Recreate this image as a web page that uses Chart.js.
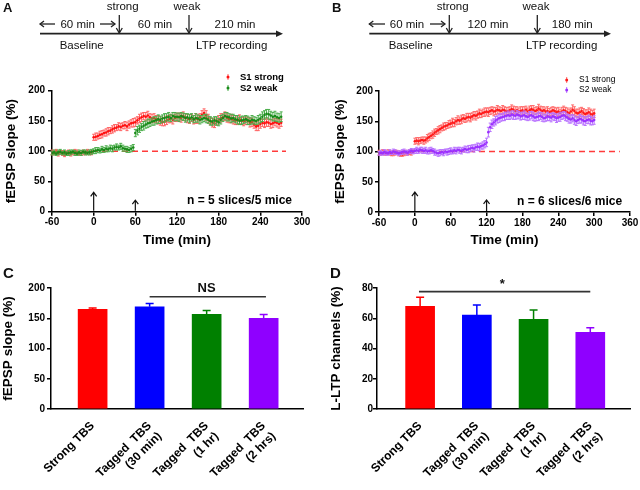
<!DOCTYPE html>
<html><head><meta charset="utf-8">
<script src="https://cdn.jsdelivr.net/npm/chart.js@4.4.1/dist/chart.umd.min.js"></script>
<style>
html,body{margin:0;padding:0;background:#fff;}
#wrap{position:relative;width:640px;height:490px;overflow:hidden;background:#fff;}
canvas{position:absolute;}
svg{position:absolute;left:0;top:0;}
</style></head><body>
<div id="wrap">
<canvas id="cA" width="320" height="180" style="left:0;top:70px"></canvas>
<canvas id="cB" width="320" height="180" style="left:320px;top:70px"></canvas>
<canvas id="cC" width="320" height="240" style="left:0;top:250px"></canvas>
<canvas id="cD" width="320" height="240" style="left:320px;top:250px"></canvas>
<svg width="640" height="490" font-family="Liberation Sans, Arial, sans-serif" fill="#111">
  <g font-weight="bold">
    <text x="3" y="12" font-size="13">A</text>
    <text x="332" y="12" font-size="13">B</text>
    <text x="3" y="277.5" font-size="15">C</text>
    <text x="330" y="277.5" font-size="15">D</text>
  </g>
  <g stroke="#222" fill="none" stroke-width="1.3">
    <line x1="40" y1="33.7" x2="279" y2="33.7" stroke-width="1.7"/>
    <line x1="119.3" y1="15" x2="119.3" y2="33"/><polyline points="116.3,28 119.3,33 122.3,28"/>
    <line x1="189" y1="15" x2="189" y2="33"/><polyline points="186,28 189,33 192,28"/>
    <line x1="40" y1="24" x2="55" y2="24"/><polyline points="44,21 40,24 44,27"/>
    <line x1="100" y1="24" x2="115" y2="24"/><polyline points="111,21 115,24 111,27"/>
    <line x1="369.3" y1="33.7" x2="607" y2="33.7" stroke-width="1.7"/>
    <line x1="449.3" y1="15" x2="449.3" y2="33"/><polyline points="446.3,28 449.3,33 452.3,28"/>
    <line x1="537.3" y1="15" x2="537.3" y2="33"/><polyline points="534.3,28 537.3,33 540.3,28"/>
    <line x1="369.3" y1="24" x2="385" y2="24"/><polyline points="373.3,21 369.3,24 373.3,27"/>
    <line x1="430" y1="24" x2="445" y2="24"/><polyline points="441,21 445,24 441,27"/>
  </g>
  <polygon points="276,30.5 283,33.7 276,36.9" fill="#222"/>
  <polygon points="604,30.5 611,33.7 604,36.9" fill="#222"/>
  <g font-size="11.5" text-anchor="middle">
    <text x="122.7" y="10">strong</text>
    <text x="187" y="10">weak</text>
    <text x="77.7" y="28">60 min</text>
    <text x="155" y="28">60 min</text>
    <text x="235" y="28">210 min</text>
    <text x="81.7" y="48.5">Baseline</text>
    <text x="231.7" y="48.5">LTP recording</text>
    <text x="452.7" y="10">strong</text>
    <text x="536" y="10">weak</text>
    <text x="407" y="28">60 min</text>
    <text x="488" y="28">120 min</text>
    <text x="572.3" y="28">180 min</text>
    <text x="410.7" y="48.5">Baseline</text>
    <text x="561.7" y="48.5">LTP recording</text>
  </g>
</svg>
</div>
<script>
// ---------- DATA ----------
const timeA = [-60,-57,-54,-51,-48,-45,-42,-39,-36,-33,-30,-27,-24,-21,-18,-15,-12,-9,-6,-3,
0,3,6,9,12,15,18,21,24,27,30,33,36,39,42,45,48,51,54,57,
60,63,66,69,72,75,78,81,84,87,90,93,96,99,102,105,108,111,114,117,
120,123,126,129,132,135,138,141,144,147,150,153,156,159,162,165,168,171,174,177,
180,183,186,189,192,195,198,201,204,207,210,213,216,219,222,225,228,231,234,237,
240,243,246,249,252,255,258,261,264,267,270];
const s1StrongA = [98,97,99,96,98,97,95,97,98,96,97,99,98,96,97,98,97,99,98,97,
123,124,125,127,128,130,131,133,134,136,138,139,141,140,142,143,141,144,146,147,
148,151,154,156,158,157,159,156,154,155,153,152,150,148,149,151,153,154,152,155,
156,157,155,158,156,154,153,155,152,154,153,156,160,163,159,154,150,147,146,149,
152,155,156,158,155,153,154,152,150,151,153,150,149,151,150,147,148,144,141,142,
145,147,146,148,147,145,146,148,147,145,147];
const s2WeakA = [97,98,96,98,99,97,98,96,97,98,99,97,96,98,97,99,98,97,98,99,
100,101,102,101,103,102,104,103,105,104,106,107,106,108,105,104,103,102,104,106,
130,134,137,140,142,144,146,147,149,150,151,153,152,154,155,156,157,155,158,157,
157,156,158,157,155,156,154,156,153,155,154,152,153,155,154,152,150,149,151,150,
148,152,155,158,157,156,154,155,153,152,150,151,152,153,151,150,152,151,150,152,
154,157,160,162,161,159,157,158,156,155,157];
const semS1A = [4,3,4,4,3,4,4,3,4,4,3,4,4,3,4,4,3,4,4,3,
5,6,5,6,6,5,6,6,5,6,6,5,6,6,5,6,7,6,6,7,
7,6,7,7,6,7,7,6,7,7,6,7,7,6,7,7,6,7,7,6,
7,6,7,7,6,7,7,6,7,8,7,6,7,7,8,7,6,7,7,6,
7,7,6,7,7,6,7,7,6,7,7,6,7,7,6,7,7,6,7,8,
7,6,7,7,6,7,7,6,7,7,6];
const semS2A = [3,4,3,4,4,3,4,3,4,4,3,4,3,4,4,3,4,3,4,4,
4,5,4,4,5,4,5,4,5,5,4,5,4,5,5,4,5,4,5,5,
6,7,6,6,7,6,7,6,6,7,6,7,6,6,7,6,7,6,6,7,
6,7,6,6,7,6,7,6,6,7,6,7,6,6,7,6,7,6,6,7,
6,7,6,6,7,6,7,6,6,7,6,7,6,6,7,6,7,6,6,7,
7,8,7,7,8,7,7,8,7,7,8];

const timeB = [-60,-57,-54,-51,-48,-45,-42,-39,-36,-33,-30,-27,-24,-21,-18,-15,-12,-9,-6,-3,
0,3,6,9,12,15,18,21,24,27,30,33,36,39,42,45,48,51,54,57,
60,63,66,69,72,75,78,81,84,87,90,93,96,99,102,105,108,111,114,117,
120,123,126,129,132,135,138,141,144,147,150,153,156,159,162,165,168,171,174,177,
180,183,186,189,192,195,198,201,204,207,210,213,216,219,222,225,228,231,234,237,
240,243,246,249,252,255,258,261,264,267,270,273,276,279,282,285,288,291,294,297,
300];
const s1StrongB = [98,97,99,98,97,99,98,96,97,98,99,97,96,95,97,98,97,99,98,100,
117,118,117,118,119,118,119,122,124,126,128,131,133,135,137,139,141,142,143,145,
146,148,147,150,152,151,153,155,154,156,157,156,158,160,159,161,163,162,164,165,
166,165,167,168,166,167,169,168,167,169,168,166,167,168,170,169,167,168,166,167,
168,167,169,166,168,170,169,167,168,171,169,167,168,166,167,165,166,168,167,165,
166,164,166,168,167,165,163,166,169,167,164,163,165,167,164,162,163,165,162,161,
163];
const s2WeakB = [97,98,97,99,98,97,99,98,100,99,98,97,98,99,100,99,98,100,101,100,
101,102,101,103,102,101,102,100,101,102,101,99,98,97,98,99,98,100,99,100,
101,100,102,101,103,102,101,103,104,103,104,105,106,105,107,108,107,109,110,112,
115,132,140,145,148,151,153,155,156,157,158,159,160,159,161,160,159,161,160,158,
159,160,158,157,159,160,158,156,157,158,159,157,155,156,158,157,156,158,157,155,
156,157,159,160,158,156,154,153,155,152,150,152,154,153,151,150,152,153,151,150,
152];
const semS1B = [4,3,4,4,3,4,4,3,4,4,3,4,4,3,4,4,3,4,4,3,
5,5,6,5,5,6,5,6,6,5,6,6,5,6,6,5,6,6,5,6,
6,7,6,6,7,6,7,6,6,7,6,7,6,6,7,6,7,6,6,7,
6,7,6,6,7,6,7,6,6,7,6,7,6,6,7,6,7,6,6,7,
6,7,6,6,7,6,7,6,6,7,6,7,6,6,7,6,7,6,6,7,
7,6,7,7,6,7,7,6,8,7,6,7,7,6,7,7,6,7,8,7,
7];
const semS2B = [3,4,3,4,4,3,4,3,4,4,3,4,3,4,4,3,4,3,4,4,
4,5,4,4,5,4,5,4,5,5,4,5,4,5,5,4,5,4,5,5,
5,4,5,5,4,5,5,4,5,5,6,5,5,6,5,6,6,5,6,6,
7,8,7,7,6,7,6,7,6,6,7,6,7,6,6,7,6,7,6,6,
6,7,6,6,7,6,7,6,6,7,6,7,6,6,7,6,7,6,6,7,
6,7,6,6,7,6,7,6,6,7,7,6,7,6,7,7,6,7,7,6,
7];

const xTicksA = [-60,0,60,120,180,240,300];
const xTicksB = [-60,0,60,120,180,240,300,360];
const yTicksSlope = [0,50,100,150,200];
const yTicksLtp = [0,20,40,60,80];
const baselineLevel = 100;
const baselineEndA = 277;
const baselineEndB = 343;
const inductionArrowsA = [[0,32],[60,19]];
const inductionArrowsB = [[0,33],[120,20]];

const barCategories = [['Strong TBS'],['Tagged  TBS','(30 min)'],['Tagged  TBS','(1 hr)'],['Tagged  TBS','(2 hrs)']];
const slopeMeans = [164.8,169,156.5,150];
const slopeSem = [2,5.5,6.5,6];
const ltpMeans = [67.9,62.1,59.3,50.7];
const ltpSem = [6,6.7,6.2,3.1];

// ---------- STYLE ----------
const FONT = "'Liberation Sans', Arial, Helvetica, sans-serif";
Chart.defaults.font.family = FONT;
Chart.defaults.color = '#000';
const barColors = ['#ff0000','#0000ff','#008000','#8f00ff'];

const semBars = {
  id:'semBars',
  beforeDatasetDraw(chart, args) {
    const ds = chart.data.datasets[args.index];
    if (!ds.sem) return;
    const y = chart.scales.y, ctx = chart.ctx;
    ctx.save();
    ctx.strokeStyle = ds.semColor; ctx.lineWidth = 1;
    ctx.beginPath();
    args.meta.data.forEach((el,i) => {
      const e = ds.sem[i]; if (e == null) return;
      const v = ds.data[i].y;
      const yt = y.getPixelForValue(v+e), yb = y.getPixelForValue(v-e);
      ctx.moveTo(el.x, yt); ctx.lineTo(el.x, yb);
      ctx.moveTo(el.x-1.5, yt); ctx.lineTo(el.x+1.5, yt);
      ctx.moveTo(el.x-1.5, yb); ctx.lineTo(el.x+1.5, yb);
    });
    ctx.stroke(); ctx.restore();
  }
};

const barErr = {
  id:'barErr',
  afterDatasetsDraw(chart) {
    const ctx = chart.ctx, y = chart.scales.y;
    chart.data.datasets.forEach((ds, di) => {
      if (!ds.semUp) return;
      const meta = chart.getDatasetMeta(di);
      meta.data.forEach((el,i) => {
        const top = y.getPixelForValue(ds.data[i].y);
        const yt = y.getPixelForValue(ds.data[i].y + ds.semUp[i]);
        ctx.save();
        ctx.strokeStyle = ds.backgroundColor[i]; ctx.lineWidth = 1.5;
        ctx.beginPath();
        ctx.moveTo(el.x, top); ctx.lineTo(el.x, yt);
        ctx.moveTo(el.x-4, yt); ctx.lineTo(el.x+4, yt);
        ctx.stroke(); ctx.restore();
      });
    });
  }
};

const extras = {
  id:'extras',
  afterDraw(chart, args, o) {
    const ctx = chart.ctx, xs = chart.scales.x, ys = chart.scales.y;
    ctx.save();
    if (o.arrows) {
      ctx.strokeStyle = '#111'; ctx.lineWidth = 1.2;
      o.arrows.forEach(([t,h]) => {
        const px = xs.getPixelForValue(t), y0 = ys.getPixelForValue(0) - 1, y1 = ys.getPixelForValue(h);
        ctx.beginPath();
        ctx.moveTo(px, y0); ctx.lineTo(px, y1);
        ctx.moveTo(px-3, y1+4); ctx.lineTo(px, y1); ctx.lineTo(px+3, y1+4);
        ctx.stroke();
      });
    }
    if (o.note) {
      ctx.font = o.note.font; ctx.fillStyle = '#000'; ctx.textAlign = 'center'; ctx.textBaseline = 'middle';
      ctx.fillText(o.note.text, xs.getPixelForValue(o.note.x), ys.getPixelForValue(o.note.y));
    }
    if (o.legend) {
      const items = chart.data.datasets.filter(d => d.label);
      ctx.font = o.legend.font; ctx.textAlign = 'left'; ctx.textBaseline = 'middle';
      items.forEach((d,i) => {
        const yy = o.legend.ys[i], xx = o.legend.x;
        ctx.strokeStyle = d.semColor; ctx.lineWidth = 1;
        ctx.beginPath(); ctx.moveTo(xx, yy-3); ctx.lineTo(xx, yy+3); ctx.stroke();
        ctx.fillStyle = d.pointBackgroundColor;
        ctx.beginPath(); ctx.arc(xx, yy, 1.5, 0, Math.PI*2); ctx.fill();
        ctx.fillStyle = '#000';
        ctx.fillText(d.label, o.legend.textX, yy);
      });
    }
    if (o.sig) {
      const s = o.sig;
      ctx.strokeStyle = '#333'; ctx.lineWidth = 1.6;
      const yy = ys.getPixelForValue(s.y);
      ctx.beginPath(); ctx.moveTo(xs.getPixelForValue(s.from), yy); ctx.lineTo(xs.getPixelForValue(s.to), yy); ctx.stroke();
      ctx.font = s.font; ctx.fillStyle = '#111'; ctx.textAlign = 'center'; ctx.textBaseline = 'middle';
      ctx.fillText(s.text, xs.getPixelForValue(s.tx), ys.getPixelForValue(s.ty));
    }
    ctx.restore();
  }
};

function axisCommon() {
  return {
    grid:{drawOnChartArea:false, drawTicks:true, tickLength:4, color:'#000', lineWidth:1.5},
    border:{display:true, color:'#000', width:1.5}
  };
}

function tsChart(id, times, s1, s2, sem1, sem2, cols, xTicks, xmax, baseEnd, arrows, note, legend, dims) {
  const datasets = [
    {label:'S1 strong', data: times.map((t,i)=>({x:t, y:s1[i]})), sem: sem1, semColor: cols.s1e,
     pointRadius:1.3, pointBorderWidth:0, pointBackgroundColor: cols.s1, backgroundColor: cols.s1, order:2},
    {label: cols.s2label, data: times.map((t,i)=>({x:t, y:s2[i]})), sem: sem2, semColor: cols.s2e,
     pointRadius:1.3, pointBorderWidth:0, pointBackgroundColor: cols.s2, backgroundColor: cols.s2, order:1},
    {type:'line', data:[{x:-60, y:baselineLevel},{x:baseEnd, y:baselineLevel}], borderColor:'#ff3b3b',
     borderWidth:1.5, borderDash:[6,4], pointRadius:0, order:3}
  ];
  return new Chart(document.getElementById(id), {
    type:'scatter',
    data:{datasets},
    options:{
      responsive:false, animation:false, devicePixelRatio:1,
      layout:{padding:{left:0, right:dims.right, top:dims.top, bottom:0}},
      plugins:{legend:{display:false}, tooltip:{enabled:false},
        extras:{arrows, note, legend}},
      scales:{
        x:Object.assign(axisCommon(), {type:'linear', min:-60, max:xmax,
          afterBuildTicks: s => { s.ticks = xTicks.map(v => ({value:v})); },
          afterFit: s => { s.height = dims.xh; },
          ticks:{font:{size:10, weight:'bold'}, color:'#000', padding:1, maxRotation:0, autoSkip:false},
          title:{display:true, text:'Time (min)', color:'#000', font:{size:13.5, weight:'bold'}, padding:{top:0, bottom:1.2}}}),
        y:Object.assign(axisCommon(), {min:0, max:200,
          afterBuildTicks: s => { s.ticks = yTicksSlope.map(v => ({value:v})); },
          afterFit: s => { s.width = dims.yw; },
          ticks:{font:{size:10, weight:'bold'}, color:'#000', padding:dims.ytp},
          title:{display:true, text:'fEPSP slope (%)', color:'#000', font:{size:13.5, weight:'bold'}, padding:{top:dims.ytt, bottom:0}}})
      }
    },
    plugins:[semBars, extras]
  });
}

tsChart('cA', timeA, s1StrongA, s2WeakA, semS1A, semS2A,
  {s1:'#ff1010', s1e:'#ff6464', s2:'#188a18', s2e:'#4cae4c', s2label:'S2 weak'},
  xTicksA, 300, baselineEndA, inductionArrowsA,
  {text:'n = 5 slices/5 mice', x:210, y:17.7, font:"bold 12px " + FONT},
  {x:228, textX:240, ys:[7,18], font:"bold 9.5px " + FONT},
  {right:18, top:20.7, xh:38.3, yw:52, ytp:3, ytt:3.6});

tsChart('cB', timeB, s1StrongB, s2WeakB, semS1B, semS2B,
  {s1:'#ff1a1a', s1e:'#ff6c6c', s2:'#9b30ff', s2e:'#b872ff', s2label:'S2 weak'},
  xTicksB, 360, baselineEndB, inductionArrowsB,
  {text:'n = 6 slices/6 mice', x:259, y:16.5, font:"bold 12px " + FONT},
  {x:246.7, textX:259, ys:[10,20], font:"8.5px " + FONT},
  {right:10, top:21, xh:38, yw:59, ytp:2, ytt:11.9});

function barChart(id, means, sems, yTicks, yTitle, dims, sig) {
  return new Chart(document.getElementById(id), {
    type:'bar',
    data:{datasets:[{data: means.map((v,i)=>({x:i, y:v})), backgroundColor: barColors, semUp: sems,
      barThickness:29, borderWidth:0}]},
    options:{
      responsive:false, animation:false, devicePixelRatio:1,
      layout:{padding:{left:0, right:dims.right, top:dims.top, bottom:0}},
      plugins:{legend:{display:false}, tooltip:{enabled:false}, extras:{sig}},
      scales:{
        x:{type:'linear', min:dims.xmin, max:dims.xmax, offset:false,
          afterBuildTicks: s => { s.ticks = barCategories.map((c,i) => ({value:i})); },
          afterFit: s => { s.height = dims.xh; },
          grid:{display:false, offset:false},
          border:{display:true, color:'#000', width:1.5},
          ticks:{autoSkip:false, minRotation:45, maxRotation:45, padding:2, color:'#000',
            font:{size:12, weight:'bold'}, callback: v => barCategories[v]}},
        y:Object.assign(axisCommon(), {min:0, max:yTicks[yTicks.length-1],
          afterBuildTicks: s => { s.ticks = yTicks.map(v => ({value:v})); },
          afterFit: s => { s.width = dims.yw; },
          ticks:{font:{size:10, weight:'bold'}, color:'#000', padding:dims.ytp},
          title:{display:true, text:yTitle, color:'#000', font:{size:13.5, weight:'bold'}, padding:{top:dims.ytt, bottom:0}}})
      }
    },
    plugins:[barErr, extras]
  });
}

barChart('cC', slopeMeans, slopeSem, yTicksSlope, 'fEPSP slope (%)',
  {right:17, top:38, xh:81, yw:51, ytp:2, ytt:0.2, xmin:-0.73, xmax:3.69},
  {from:1.0, to:3.04, y:185.6, text:'NS', tx:2.0, ty:199, font:"bold 13px " + FONT});

barChart('cD', ltpMeans, ltpSem, yTicksLtp, 'L-LTP channels (%)',
  {right:10, top:38, xh:81, yw:57, ytp:0, ytt:8, xmin:-0.76, xmax:3.70},
  {from:-0.02, to:3.0, y:77.6, text:'*', tx:1.45, ty:82.5, font:"bold 13px " + FONT});
</script>
</body></html>
